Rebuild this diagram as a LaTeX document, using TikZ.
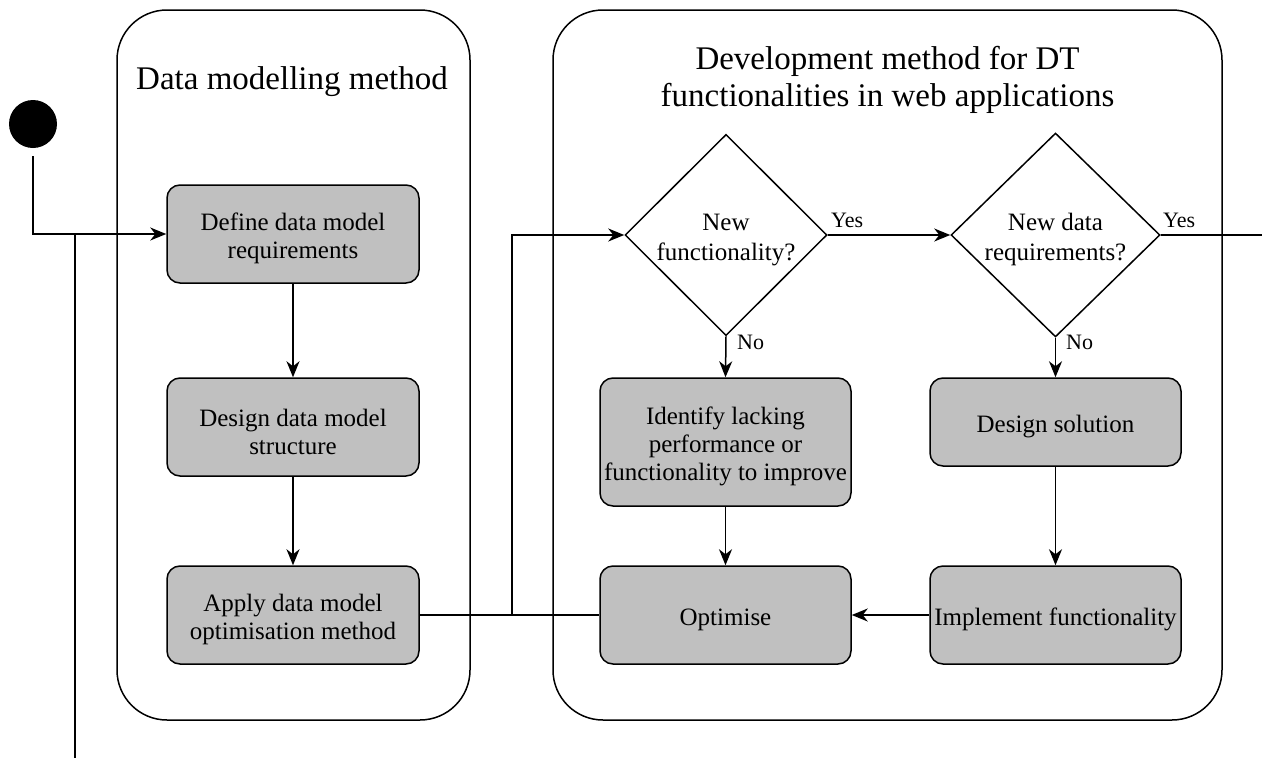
\documentclass[tikz,border=0pt]{standalone}
\usepackage{fontspec}
\setmainfont{Liberation Serif}
\usetikzlibrary{arrows.meta,shapes.geometric}
\definecolor{stepfill}{HTML}{C0C0C0}
% invisible strut that lowers the first line of a centred label a little
\newcommand\topgap{\rule{0pt}{27pt}}
\tikzset{
  lane/.style={draw, line width=1.5pt, rounded corners=50pt, inner sep=0pt},
  lanetitle/.style={align=center, inner sep=0pt, font=\fontsize{33}{37}\selectfont},
  stepbox/.style={draw, line width=1.5pt, fill=stepfill, rounded corners=13pt,
    align=center, inner sep=0pt, font=\fontsize{25}{28}\selectfont},
  decision/.style={draw, line width=1.5pt, diamond, inner sep=0pt, aspect=1,
    align=center, font=\fontsize{25}{30}\selectfont},
  startdot/.style={circle, fill=black, inner sep=0pt, minimum size=48pt},
  wire/.style={line width=1.5pt},
  flow/.style={wire, -{Stealth[length=16pt,width=13pt,inset=5pt]}},
  tag/.style={font=\fontsize{22}{26}\selectfont, inner sep=0pt},
}
\begin{document}
\begin{tikzpicture}[x=1pt,y=-1pt]
\useasboundingbox (0,0) rectangle (1262,758);

% swimlanes
\node[lane, minimum width=353pt, minimum height=710pt] (laneA) at (293.5,365) {};
\node[lane, minimum width=669pt, minimum height=710pt] (laneB) at (887.5,365) {};
\node[lanetitle, anchor=base] (titleA) at (292,89) {Data modelling method};
\node[lanetitle] (titleB) at (887.5,80) {Development method for DT\\functionalities in web applications};

% start
\node[startdot] (start) at (33,124) {};

% data modelling steps
\node[stepbox, minimum width=252pt, minimum height=98pt] (define) at (293,234) {\topgap Define data model\\requirements};
\node[stepbox, minimum width=252pt, minimum height=98pt] (design) at (293,427) {\topgap Design data model\\structure};
\node[stepbox, minimum width=252pt, minimum height=98pt] (apply) at (293,615) {\topgap Apply data model\\optimisation method};

% development steps
\node[decision, minimum width=202pt, minimum height=200pt] (dec1) at (726,235) {\topgap New\\functionality?};
\node[decision, minimum width=209pt, minimum height=200pt] (dec2) at (1055.5,235) {\topgap New data\\requirements?};
\node[stepbox, minimum width=251pt, minimum height=128pt] (identify) at (725.5,442) {\topgap Identify lacking\\performance or\\functionality to improve};
\node[stepbox, minimum width=251pt, minimum height=88pt] (solution) at (1055.5,422) {\topgap Design solution};
\node[stepbox, minimum width=251pt, minimum height=98pt] (optimise) at (725.5,615) {\topgap Optimise};
\node[stepbox, minimum width=251pt, minimum height=98pt] (implement) at (1055.5,615) {\topgap Implement functionality};

% junction points and loose ends
\coordinate (j0) at (75,235);
\coordinate (loopend) at (75,758);
\coordinate (j1) at (512,615);
\coordinate (exitR) at (1262,235);

% connectors
\draw[flow, shorten <=8pt] (start.south) |- (define.west);
\draw[wire] (j0) -- (loopend);
\draw[flow] (define) -- (design);
\draw[flow] (design) -- (apply);
\draw[wire] (apply.east) -- (optimise.west);
\draw[flow] (j1) |- (dec1.west);
\draw[flow] (dec1.east) -- (dec2.west);
\draw[wire] (dec2.east) -- (exitR);
\draw[flow] (dec1.south) -- (identify.north);
\draw[flow] (identify.south) -- (optimise.north);
\draw[flow] (dec2.south) -- (solution.north);
\draw[flow] (solution.south) -- (implement.north);
\draw[flow] (implement.west) -- (optimise.east);

% branch labels
\node[tag, anchor=base west] (yes1) at (831,227) {Yes};
\node[tag, anchor=base west] (yes2) at (1163,227) {Yes};
\node[tag, anchor=base west] (no1) at (737,349) {No};
\node[tag, anchor=base west] (no2) at (1066,349) {No};
\end{tikzpicture}
\end{document}
